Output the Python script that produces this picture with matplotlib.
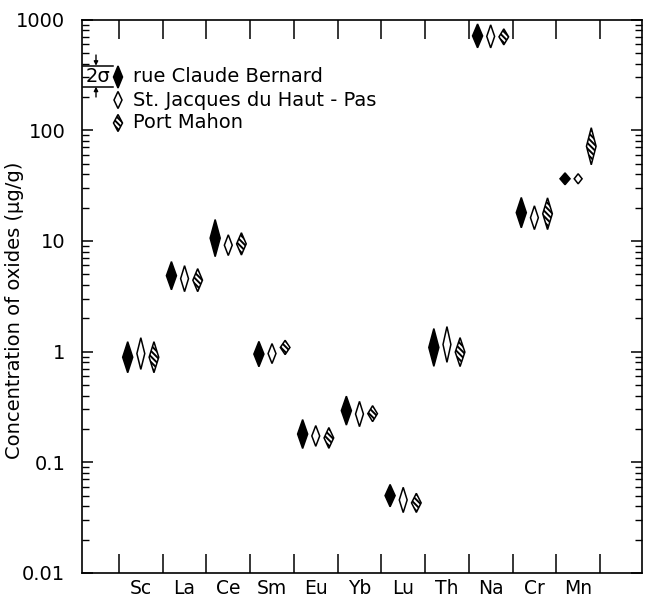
import numpy as np
import matplotlib.pyplot as plt
from matplotlib.patches import Polygon
from matplotlib.ticker import FixedLocator, LogLocator, NullFormatter

plt.rcParams['font.family'] = ['DejaVu Sans']
plt.rcParams['hatch.linewidth'] = 1.4

elements = ["Sc", "La", "Ce", "Sm", "Eu", "Yb", "Lu", "Th", "Na", "Cr", "Mn"]
sites = ["rue Claude Bernard", "St. Jacques du Haut - Pas", "Port Mahon"]

# concentration of oxides, ug/g
claude = [0.89, 4.85, 10.6, 0.95, 0.180, 0.293, 0.050, 1.09, 711, 18.0, 36.4]
jacques = [0.96, 4.56, 9.15, 0.96, 0.173, 0.273, 0.0457, 1.16, 704, 16.2, 36.4]
mahon = [0.89, 4.42, 9.4, 1.09, 0.166, 0.275, 0.043, 0.99, 697, 17.6, 71.6]

# 2 sigma, in percent (diamond half height)
claude_err = [38, 34, 47, 30, 35, 35, 26, 48, 28, 37, 13]
jacques_err = [39, 31, 24, 23, 24, 30, 30, 45, 27, 28, 11]
mahon_err = [38, 27, 26, 16, 24, 18, 22, 35, 18, 39, 47]

yticks = [0.01, 0.1, 1, 10, 100, 1000]
ytick_labels = ["0.01", "0.1", "1", "10", "100", "1000"]

fig = plt.figure(figsize=(6.47, 5.97), dpi=100)
ax = fig.add_axes([82/647, 1-573/597, 560/647, 553.5/597])
ax.set_yscale("log")
ax.set_ylim(0.01, 1000)
ax.set_xlim(-1.345, 11.46)

styles = [dict(facecolor="black", edgecolor="black", w=0.115),
          dict(facecolor="white", edgecolor="black", w=0.09),
          dict(facecolor="white", edgecolor="black", w=0.11, hatch="\\\\\\\\\\\\")]
offsets = [-0.3, 0.0, 0.3]

def diamond(x, v, err, w):
    f = 1 + err/100.0
    return [(x, v*f), (x+w, v), (x, v/f), (x-w, v)]

for vals, errs, st, off in zip([claude, jacques, mahon],
                               [claude_err, jacques_err, mahon_err],
                               styles, offsets):
    for i, (v, e) in enumerate(zip(vals, errs)):
        p = Polygon(diamond(i + off, v, e, st["w"]), closed=True,
                    facecolor=st["facecolor"], edgecolor=st["edgecolor"],
                    hatch=st.get("hatch"), linewidth=1.1)
        ax.add_patch(p)

# axes / ticks
for s in ax.spines.values():
    s.set_linewidth(1.2)
ax.set_yticks(yticks)
ax.set_yticklabels(ytick_labels)
ax.yaxis.set_minor_locator(LogLocator(base=10, subs=np.arange(2, 10)))
ax.yaxis.set_minor_formatter(NullFormatter())
ax.tick_params(axis="y", which="major", direction="in", length=8, width=1.1,
               right=True, labelsize=14, pad=12)
ax.tick_params(axis="y", which="minor", direction="in", length=5, width=1.0,
               right=True)

ax.set_xticks(range(len(elements)))
ax.set_xticklabels(elements)
ax.xaxis.set_minor_locator(FixedLocator(np.arange(-0.5, len(elements), 1.0)))
ax.tick_params(axis="x", which="major", length=0, labelsize=13.5, pad=4)
ax.tick_params(axis="x", which="minor", direction="in", length=14, width=1.1,
               top=True)

ax.set_ylabel("Concentration of oxides (μg/g)", fontsize=14)
ax.yaxis.set_label_coords((24 - 82) / 560.0, (573 - 310) / 553.5)

# legend drawn by hand, positions in pixels of the figure
def px(x, y):
    return ((x - 82) / 560.0, (573 - y) / 553.5)

rows_y = [77, 100, 123]
legend_w = [4.5, 4.0, 4.5]
legend_h = [11, 8.5, 8.5]
for st, ry, lw, lh, name in zip(styles, rows_y, legend_w, legend_h, sites):
    cx, cy = px(118, ry)
    dx = lw / 560.0
    dy = lh / 553.5
    p = Polygon([(cx, cy+dy), (cx+dx, cy), (cx, cy-dy), (cx-dx, cy)],
                closed=True, transform=ax.transAxes, facecolor=st["facecolor"],
                edgecolor="black", hatch=st.get("hatch"), linewidth=1.1,
                clip_on=False)
    ax.add_patch(p)
    tx, ty = px(133, ry)
    ax.text(tx, ty, name, transform=ax.transAxes, fontsize=14,
            va="center", ha="left")

# 2 sigma scale mark
for ly in [65.7, 86.7]:
    x1, y1 = px(83, ly)
    x2, _ = px(113, ly)
    ax.plot([x1, x2], [y1, y1], color="black", lw=1.1,
            transform=ax.transAxes, clip_on=False)
ax.annotate("", xy=px(96, 65.7), xytext=px(96, 55), xycoords="axes fraction",
            arrowprops=dict(arrowstyle="-|>", lw=1.0, color="black",
                            mutation_scale=6, shrinkA=0, shrinkB=0))
ax.annotate("", xy=px(96, 86.7), xytext=px(96, 97), xycoords="axes fraction",
            arrowprops=dict(arrowstyle="-|>", lw=1.0, color="black",
                            mutation_scale=6, shrinkA=0, shrinkB=0))
sx, sy = px(98, 76.5)
ax.text(sx, sy, "2σ", transform=ax.transAxes, fontsize=14,
        ha="center", va="center")

fig.savefig("out.png", dpi=100)
